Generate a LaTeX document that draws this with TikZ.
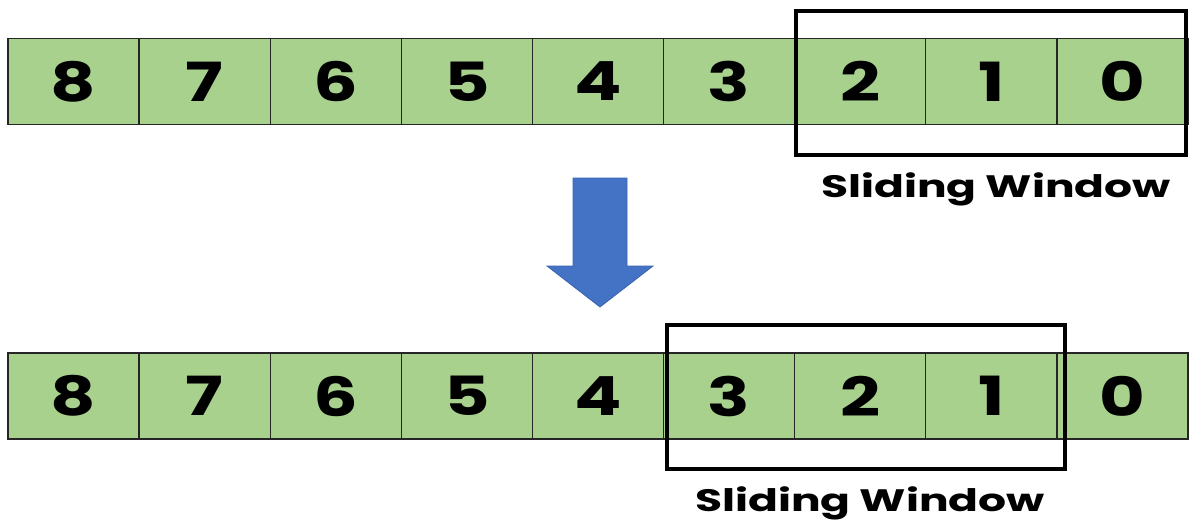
\documentclass[tikz,border=0pt]{standalone}
\usepackage{fontspec}
\setmainfont{Poppins}
\newfontfamily\widefont[FakeStretch=1.3]{Poppins}
\newfontfamily\widerfont[FakeStretch=1.42]{Poppins}
\definecolor{cellgreen}{HTML}{A9D18E}
\definecolor{arrowblue}{HTML}{4472C4}
\definecolor{arrowedge}{HTML}{3A64B0}
\begin{document}
\begin{tikzpicture}[x=1pt,y=-1pt,
  cell/.style={draw=black!85,line width=1.4pt,fill=cellgreen,minimum width=131.1pt,minimum height=86pt,inner sep=0pt,font=\widefont\fontsize{54}{54}\selectfont\bfseries},
  winbox/.style={draw=black,line width=4.5pt},
  winlabel/.style={font=\widerfont\fontsize{31}{31}\selectfont\bfseries,inner sep=0pt}]
\useasboundingbox (0,0) rectangle (1194,524);
% top row
\foreach \v [count=\i from 0] in {8,7,6,5,4,3,2,1,0}{
  \node[cell] (t\v) at ({8+131.1*\i+65.55},81.5) {\v};
}
% bottom row
\foreach \v [count=\i from 0] in {8,7,6,5,4,3,2,1,0}{
  \node[cell] (b\v) at ({8+131.1*\i+65.55},396) {\v};
}
% windows
\coordinate (tw1) at (796,11);
\coordinate (tw2) at (1186,155);
\draw[winbox] (tw1) rectangle (tw2);
\node[winlabel] (tl) at (996,189) {Sliding Window};
\coordinate (bw1) at (667,325);
\coordinate (bw2) at (1065,469);
\draw[winbox] (bw1) rectangle (bw2);
\node[winlabel] (bl) at (870,503) {Sliding Window};
% arrow
\draw[fill=arrowblue,draw=arrowedge,line width=0.8pt,line join=miter]
  (573,178) -- (627,178) -- (627,266) -- (653,266) -- (600,307) -- (547,266) -- (573,266) -- cycle;
\end{tikzpicture}
\end{document}
